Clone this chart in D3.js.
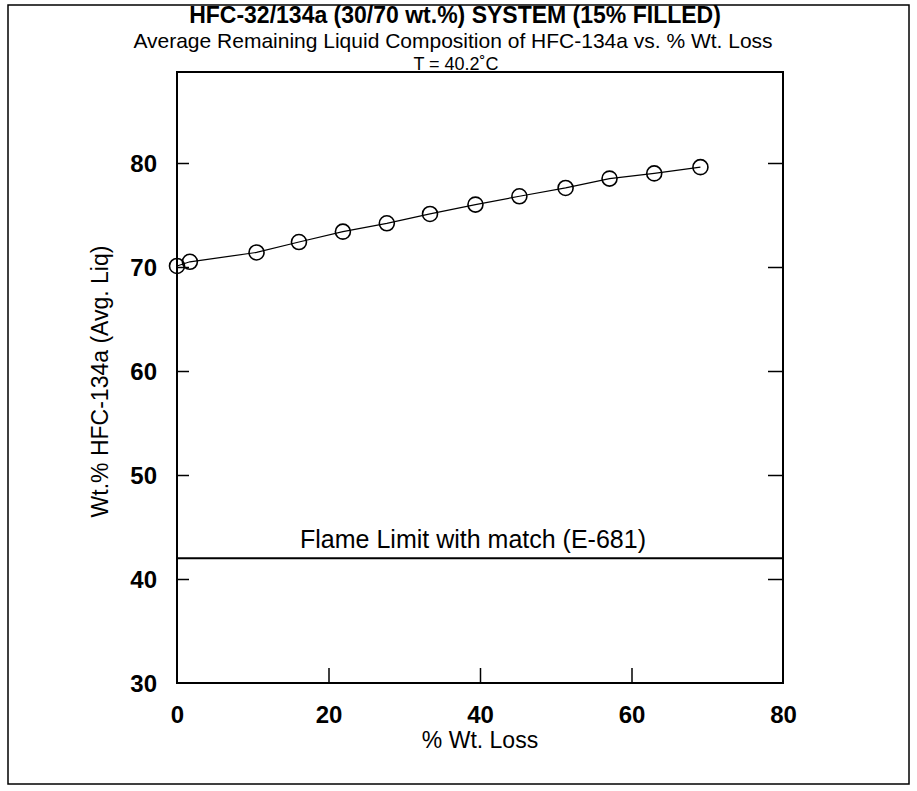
<!DOCTYPE html>
<html>
<head>
<meta charset="utf-8">
<script src="https://cdn.jsdelivr.net/npm/d3@7"></script>
<style>
  body { margin: 0; background: #fff; }
  text { font-family: "Liberation Sans", Arial, sans-serif; fill: #000; }
</style>
</head>
<body>
<div id="chart"></div>
<script>
// data
var wtLoss = [0, 1.7, 10.5, 16.1, 21.9, 27.7, 33.4, 39.4, 45.2, 51.3, 57.1, 63.0, 69.1];
var wt134a = [70.1, 70.5, 71.4, 72.4, 73.4, 74.2, 75.1, 76.0, 76.8, 77.6, 78.5, 79.0, 79.6];
var xTicks = [0, 20, 40, 60, 80];
var yTicks = [30, 40, 50, 60, 70, 80];
var flameLimit = 42;

var width = 917, height = 791;
var pLeft = 177, pRight = 783, pTop = 72, pBottom = 683;

var svg = d3.select("#chart").append("svg")
  .attr("width", width)
  .attr("height", height);

// page frame
svg.append("rect")
  .attr("x", 8).attr("y", 5)
  .attr("width", 901).attr("height", 779)
  .attr("fill", "none").attr("stroke", "#000").attr("stroke-width", 1.5);

var x = d3.scaleLinear().domain([0, 80]).range([pLeft, pRight]);
var y = d3.scaleLinear().domain([30, 88.75]).range([pBottom, pTop]);

// titles
svg.append("text").attr("x", 455).attr("y", 23)
  .attr("text-anchor", "middle").attr("font-size", 23).attr("font-weight", "bold")
  .text("HFC-32/134a (30/70 wt.%) SYSTEM (15% FILLED)");
svg.append("text").attr("x", 453).attr("y", 48)
  .attr("text-anchor", "middle").attr("font-size", 21)
  .text("Average Remaining Liquid Composition of HFC-134a vs. % Wt. Loss");
svg.append("text").attr("x", 456).attr("y", 70)
  .attr("text-anchor", "middle").attr("font-size", 18)
  .text("T = 40.2\u02daC");

// plot box
svg.append("rect")
  .attr("x", pLeft).attr("y", pTop)
  .attr("width", pRight - pLeft).attr("height", pBottom - pTop)
  .attr("fill", "none").attr("stroke", "#000").attr("stroke-width", 2);

// axes (ticks pointing inward)
var xAxis = svg.append("g").attr("transform", "translate(0," + pBottom + ")")
  .call(d3.axisBottom(x).tickValues(xTicks).tickSize(-15).tickPadding(23).tickFormat(d3.format("d")));
var yAxis = svg.append("g").attr("transform", "translate(" + pLeft + ",0)")
  .call(d3.axisLeft(y).tickValues(yTicks).tickSize(-12).tickPadding(20).tickFormat(d3.format("d")));
var yAxisR = svg.append("g").attr("transform", "translate(" + pRight + ",0)")
  .call(d3.axisRight(y).tickValues(yTicks.filter(function(d) { return d > 30; })).tickSize(-15).tickFormat(""));

[xAxis, yAxis, yAxisR].forEach(function(a) {
  a.select(".domain").remove();
  a.selectAll("line").attr("stroke", "#000").attr("stroke-width", 1.5);
  a.selectAll("text").attr("font-size", 24).attr("font-weight", "bold")
    .attr("font-family", "Liberation Sans, Arial, sans-serif").attr("fill", "#000");
});
// end ticks sitting on the box are not drawn
xAxis.selectAll(".tick").filter(function(d) { return d === 0 || d === 80; }).select("line").remove();
yAxis.selectAll(".tick").filter(function(d) { return d === 30; }).select("line").remove();
yAxis.selectAll("text").attr("dy", "0.35em");

// axis titles
svg.append("text").attr("x", (pLeft + pRight) / 2).attr("y", 748)
  .attr("text-anchor", "middle").attr("font-size", 23)
  .text("% Wt. Loss");
svg.append("text")
  .attr("transform", "translate(108," + ((pTop + pBottom) / 2 + 4) + ") rotate(-90)")
  .attr("text-anchor", "middle").attr("font-size", 23)
  .text("Wt.% HFC-134a (Avg. Liq)");

// flame limit
svg.append("line")
  .attr("x1", pLeft).attr("x2", pRight)
  .attr("y1", y(flameLimit)).attr("y2", y(flameLimit))
  .attr("stroke", "#000").attr("stroke-width", 2);
svg.append("text").attr("x", 473).attr("y", y(flameLimit) - 10)
  .attr("text-anchor", "middle").attr("font-size", 25)
  .text("Flame Limit with match (E-681)");

// series
var pts = wtLoss.map(function(d, i) { return { x: d, y: wt134a[i] }; });
svg.append("path").datum(pts)
  .attr("d", d3.line().x(function(d) { return x(d.x); }).y(function(d) { return y(d.y); }))
  .attr("fill", "none").attr("stroke", "#000").attr("stroke-width", 1.2);
svg.selectAll("circle.pt").data(pts).enter().append("circle")
  .attr("class", "pt")
  .attr("cx", function(d) { return x(d.x); })
  .attr("cy", function(d) { return y(d.y); })
  .attr("r", 7.5)
  .attr("fill", "none").attr("stroke", "#000").attr("stroke-width", 1.6);
</script>
</body>
</html>
